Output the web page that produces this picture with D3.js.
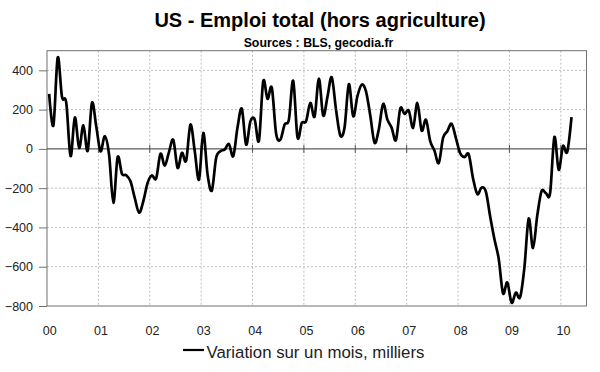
<!DOCTYPE html>
<html>
<head>
<meta charset="utf-8">
<script src="https://cdn.jsdelivr.net/npm/d3@7"></script>
<style>
  body { margin: 0; background: #fff; }
  svg { display: block; }
</style>
</head>
<body>
<div id="container"></div>
<script>
// variation mensuelle de l'emploi total, milliers
const yearLabels = ["00", "01", "02", "03", "04", "05", "06", "07", "08", "09", "10"];
const v2000 = [280, 120, 465, 265, 235, -37, 160, 5, 120, -10, 234, 115];
const v2001 = [-12, 64, -30, -275, -42, -127, -134, -165, -250, -325, -266, -173];
const v2002 = [-135, -150, -25, -85, -15, 46, -97, -20, -60, 124, -10, -156];
const v2003 = [81, -130, -212, -46, -12, -3, 25, -37, 110, 205, 22, 140];
const v2004 = [150, 42, 344, 255, 312, 80, 47, 124, 150, 347, 59, 132];
const v2005 = [141, 234, 165, 358, 170, 265, 365, 200, 68, 110, 330, 166];
const v2006 = [268, 327, 293, 170, 31, 100, 229, 149, 107, 45, 205, 178];
const v2007 = [195, 107, 234, 93, 149, 40, -10, -72, 56, 90, 128, 55];
const v2008 = [-22, -42, -28, -150, -230, -197, -218, -344, -460, -560, -735, -680];
const v2009 = [-783, -732, -755, -603, -355, -505, -340, -215, -225, -225, 60, -107];
const v2010 = [14, -15, 162];
const yTicks = [400, 200, 0, -200, -400, -600, -800];

const values = [].concat(v2000, v2001, v2002, v2003, v2004, v2005, v2006, v2007, v2008, v2009, v2010);

const width = 600;
const height = 372;
const marginLeft = 47;
const marginRight = 13.5;
const marginTop = 50.7;
const marginBottom = 66;
const nMonths = 126; // axe : janv. 2000 -> juin 2010

const font = "Arial, 'Liberation Sans', sans-serif";

const svg = d3
  .select("#container")
  .append("svg")
  .attr("width", width)
  .attr("height", height)
  .attr("viewBox", [0, 0, width, height]);

const x = d3.scaleLinear([0, nMonths], [marginLeft, width - marginRight]);
const y = d3.scaleLinear([-800, 500], [height - marginBottom, marginTop]);

// grille horizontale
svg.append("g")
  .selectAll("line")
  .data(yTicks.filter((d) => d !== 0 && d !== -800))
  .join("line")
  .attr("x1", x(0))
  .attr("x2", x(nMonths))
  .attr("y1", (d) => y(d))
  .attr("y2", (d) => y(d))
  .attr("stroke", "#bdbdbd")
  .attr("stroke-dasharray", "2,2");

// grille verticale (une par an)
svg.append("g")
  .selectAll("line")
  .data(d3.range(1, yearLabels.length).map((k) => k * 12))
  .join("line")
  .attr("x1", (d) => x(d))
  .attr("x2", (d) => x(d))
  .attr("y1", y(500))
  .attr("y2", y(-800))
  .attr("stroke", "#bdbdbd")
  .attr("stroke-dasharray", "2,2");

// cadre
svg.append("rect")
  .attr("x", x(0))
  .attr("y", y(500))
  .attr("width", x(nMonths) - x(0))
  .attr("height", y(-800) - y(500))
  .attr("fill", "none")
  .attr("stroke", "#707070");

// axe y
const yAxis = svg.append("g")
  .attr("transform", `translate(${marginLeft},0)`)
  .call(d3.axisLeft(y).tickValues(yTicks).tickSize(8).tickPadding(6).tickFormat(d3.format("d")));
yAxis.select(".domain").remove();
yAxis.selectAll(".tick line").attr("stroke", "#707070");
yAxis.selectAll("text")
  .attr("font-family", font)
  .attr("font-size", 12.5)
  .attr("fill", "#222");

// ligne du zéro + graduations annuelles
svg.append("line")
  .attr("x1", x(0))
  .attr("x2", x(nMonths))
  .attr("y1", y(0))
  .attr("y2", y(0))
  .attr("stroke", "#333");
svg.append("g")
  .selectAll("line")
  .data(d3.range(1, yearLabels.length).map((k) => k * 12))
  .join("line")
  .attr("x1", (d) => x(d))
  .attr("x2", (d) => x(d))
  .attr("y1", y(0) - 4)
  .attr("y2", y(0) + 4)
  .attr("stroke", "#555");

// axe x : étiquettes des années
const xAxis = svg.append("g")
  .attr("transform", `translate(0,${height - marginBottom})`)
  .call(d3.axisBottom(x)
    .tickValues(yearLabels.map((d, k) => k * 12 + 0.5))
    .tickSize(0)
    .tickPadding(20)
    .tickFormat((d, k) => yearLabels[k]));
xAxis.select(".domain").remove();
xAxis.selectAll("text")
  .attr("font-family", font)
  .attr("font-size", 12.5)
  .attr("fill", "#222");

// la courbe
const line = d3.line()
  .x((d, i) => x(i + 0.5))
  .y((d) => y(d))
  .curve(d3.curveCardinal.tension(0));

svg.append("path")
  .datum(values)
  .attr("fill", "none")
  .attr("stroke", "#000")
  .attr("stroke-width", 2.7)
  .attr("stroke-linejoin", "round")
  .attr("d", line);

// titres
svg.append("text")
  .attr("x", 320)
  .attr("y", 27.3)
  .attr("text-anchor", "middle")
  .attr("font-family", font)
  .attr("font-weight", "bold")
  .attr("font-size", 20)
  .attr("fill", "#000")
  .text("US - Emploi total (hors agriculture)");

svg.append("text")
  .attr("x", 318.5)
  .attr("y", 46.5)
  .attr("text-anchor", "middle")
  .attr("font-family", font)
  .attr("font-weight", "bold")
  .attr("font-size", 12.3)
  .attr("fill", "#000")
  .text("Sources : BLS, gecodia.fr");

// légende
const legend = svg.append("g");
legend.append("line")
  .attr("x1", 183)
  .attr("x2", 204)
  .attr("y1", 350)
  .attr("y2", 350)
  .attr("stroke", "#000")
  .attr("stroke-width", 2.2);
legend.append("text")
  .attr("x", 206.5)
  .attr("y", 357.5)
  .attr("font-family", font)
  .attr("font-size", 16.8)
  .attr("fill", "#222")
  .text("Variation sur un mois, milliers");
</script>
</body>
</html>
